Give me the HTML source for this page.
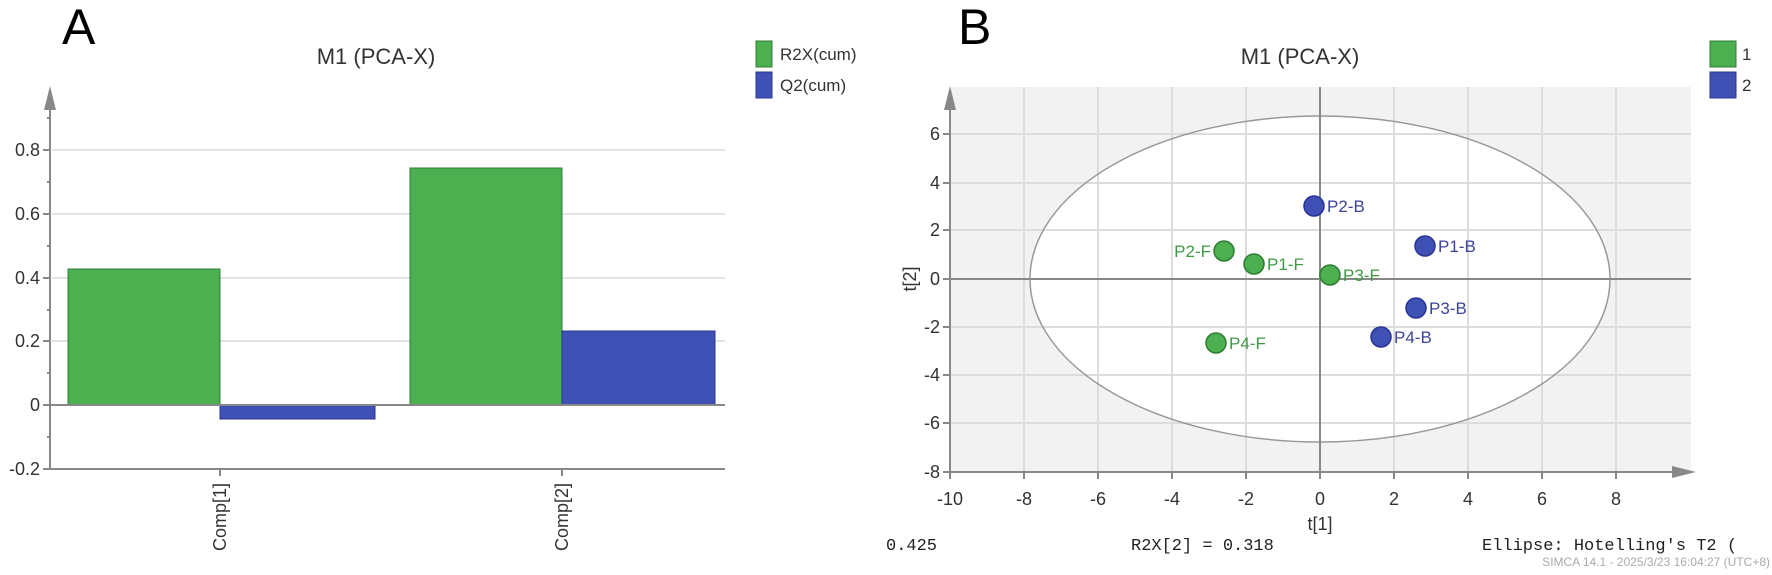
<!DOCTYPE html>
<html><head><meta charset="utf-8"><style>
html,body{margin:0;padding:0;background:#fff;}
svg{display:block;}
text{font-family:"Liberation Sans","DejaVu Sans",sans-serif;}
.t{font-size:18px;fill:#333;}
.m{font-family:"Liberation Mono","DejaVu Sans Mono",monospace;font-size:17px;fill:#222;}
</style></head><body>
<svg width="1772" height="575" viewBox="0 0 1772 575" xmlns="http://www.w3.org/2000/svg">
<!-- Panel A -->
<text x="62" y="44" style="font-family:'Liberation Sans',sans-serif;font-size:50px;fill:#000">A</text>
<text x="376" y="64" text-anchor="middle" style="font-size:22px;fill:#333">M1 (PCA-X)</text>
<g stroke="#e3e3e3" stroke-width="2">
<line x1="52" y1="150" x2="725" y2="150"/><line x1="52" y1="214" x2="725" y2="214"/>
<line x1="52" y1="278" x2="725" y2="278"/><line x1="52" y1="341" x2="725" y2="341"/>
</g>
<rect x="68" y="269" width="152" height="136" fill="#4caf50" stroke="#2e7d32" stroke-width="1"/>
<rect x="220" y="405" width="155" height="14" fill="#3f51b5" stroke="#283593" stroke-width="1"/>
<rect x="410" y="168" width="152" height="237" fill="#4caf50" stroke="#2e7d32" stroke-width="1"/>
<rect x="562" y="331" width="153" height="74" fill="#3f51b5" stroke="#283593" stroke-width="1"/>
<line x1="50" y1="405" x2="725" y2="405" stroke="#888" stroke-width="2"/>
<line x1="50" y1="100" x2="50" y2="469" stroke="#888" stroke-width="2"/>
<line x1="50" y1="469" x2="725" y2="469" stroke="#888" stroke-width="2"/>
<polygon points="50,86 44,110 56,110" fill="#888"/>
<g stroke="#888" stroke-width="2">
<line x1="43" y1="150" x2="50" y2="150"/><line x1="43" y1="214" x2="50" y2="214"/><line x1="43" y1="278" x2="50" y2="278"/>
<line x1="43" y1="341" x2="50" y2="341"/><line x1="43" y1="405" x2="50" y2="405"/><line x1="43" y1="469" x2="50" y2="469"/>
<line x1="47" y1="118" x2="50" y2="118"/><line x1="47" y1="182" x2="50" y2="182"/><line x1="47" y1="246" x2="50" y2="246"/>
<line x1="47" y1="310" x2="50" y2="310"/><line x1="47" y1="373" x2="50" y2="373"/><line x1="47" y1="437" x2="50" y2="437"/>
<line x1="220" y1="469" x2="220" y2="476"/><line x1="562" y1="469" x2="562" y2="476"/>
</g>
<g class="t" text-anchor="end">
<text x="40" y="156">0.8</text><text x="40" y="220">0.6</text><text x="40" y="284">0.4</text>
<text x="40" y="347">0.2</text><text x="40" y="411">0</text><text x="40" y="475">-0.2</text>
</g>
<text class="t" transform="translate(226,483) rotate(-90)" text-anchor="end">Comp[1]</text>
<text class="t" transform="translate(568,483) rotate(-90)" text-anchor="end">Comp[2]</text>
<rect x="756" y="41" width="16" height="26" fill="#4caf50" stroke="#2e7d32"/>
<rect x="756" y="72" width="16" height="26" fill="#3f51b5" stroke="#283593"/>
<text x="780" y="60" style="font-size:17px;fill:#333">R2X(cum)</text>
<text x="780" y="91" style="font-size:17px;fill:#333">Q2(cum)</text>

<!-- Panel B -->
<text x="958" y="44" style="font-family:'Liberation Sans',sans-serif;font-size:50px;fill:#000">B</text>
<text x="1300" y="64" text-anchor="middle" style="font-size:22px;fill:#333">M1 (PCA-X)</text>
<rect x="951" y="87" width="740" height="385" fill="#f2f2f2"/>
<ellipse cx="1320" cy="279" rx="290" ry="163" fill="#fff"/>
<g stroke="#dcdcdc" stroke-width="2">
<line x1="951" y1="134" x2="1691" y2="134"/><line x1="951" y1="183" x2="1691" y2="183"/><line x1="951" y1="230" x2="1691" y2="230"/>
<line x1="951" y1="327" x2="1691" y2="327"/><line x1="951" y1="375" x2="1691" y2="375"/><line x1="951" y1="423" x2="1691" y2="423"/>
<line x1="1024" y1="87" x2="1024" y2="472"/><line x1="1098" y1="87" x2="1098" y2="472"/><line x1="1172" y1="87" x2="1172" y2="472"/>
<line x1="1246" y1="87" x2="1246" y2="472"/><line x1="1394" y1="87" x2="1394" y2="472"/><line x1="1468" y1="87" x2="1468" y2="472"/>
<line x1="1542" y1="87" x2="1542" y2="472"/><line x1="1616" y1="87" x2="1616" y2="472"/>
</g>
<ellipse cx="1320" cy="279" rx="290" ry="163" fill="none" stroke="#999" stroke-width="1.5"/>
<line x1="951" y1="279" x2="1691" y2="279" stroke="#888" stroke-width="2"/>
<line x1="1320" y1="87" x2="1320" y2="472" stroke="#888" stroke-width="2"/>
<line x1="950" y1="100" x2="950" y2="472" stroke="#888" stroke-width="2"/>
<line x1="950" y1="472" x2="1680" y2="472" stroke="#888" stroke-width="2"/>
<polygon points="950,86 944,110 956,110" fill="#888"/>
<polygon points="1696,472 1672,466 1672,478" fill="#888"/>
<g stroke="#888" stroke-width="2">
<line x1="943" y1="134" x2="950" y2="134"/><line x1="943" y1="183" x2="950" y2="183"/><line x1="943" y1="230" x2="950" y2="230"/>
<line x1="943" y1="279" x2="950" y2="279"/><line x1="943" y1="327" x2="950" y2="327"/><line x1="943" y1="375" x2="950" y2="375"/>
<line x1="943" y1="423" x2="950" y2="423"/><line x1="943" y1="472" x2="950" y2="472"/>
<line x1="950" y1="472" x2="950" y2="479"/><line x1="1024" y1="472" x2="1024" y2="479"/><line x1="1098" y1="472" x2="1098" y2="479"/>
<line x1="1172" y1="472" x2="1172" y2="479"/><line x1="1246" y1="472" x2="1246" y2="479"/><line x1="1320" y1="472" x2="1320" y2="479"/>
<line x1="1394" y1="472" x2="1394" y2="479"/><line x1="1468" y1="472" x2="1468" y2="479"/><line x1="1542" y1="472" x2="1542" y2="479"/>
<line x1="1616" y1="472" x2="1616" y2="479"/>
</g>
<g class="t" text-anchor="end">
<text x="940" y="140">6</text><text x="940" y="189">4</text><text x="940" y="236">2</text><text x="940" y="285">0</text>
<text x="940" y="333">-2</text><text x="940" y="381">-4</text><text x="940" y="429">-6</text><text x="940" y="478">-8</text>
</g>
<g class="t" text-anchor="middle">
<text x="950" y="505">-10</text><text x="1024" y="505">-8</text><text x="1098" y="505">-6</text><text x="1172" y="505">-4</text>
<text x="1246" y="505">-2</text><text x="1320" y="505">0</text><text x="1394" y="505">2</text><text x="1468" y="505">4</text>
<text x="1542" y="505">6</text><text x="1616" y="505">8</text>
<text x="1320" y="530">t[1]</text>
</g>
<text class="t" transform="translate(916,279) rotate(-90)" text-anchor="middle">t[2]</text>
<g stroke-width="1.5">
<circle cx="1314" cy="206" r="10" fill="#3f51b5" stroke="#283593"/>
<circle cx="1425" cy="246" r="10" fill="#3f51b5" stroke="#283593"/>
<circle cx="1416" cy="308" r="10" fill="#3f51b5" stroke="#283593"/>
<circle cx="1381" cy="337" r="10" fill="#3f51b5" stroke="#283593"/>
<circle cx="1224" cy="251" r="10" fill="#4caf50" stroke="#2e7d32"/>
<circle cx="1254" cy="264" r="10" fill="#4caf50" stroke="#2e7d32"/>
<circle cx="1330" cy="275" r="10" fill="#4caf50" stroke="#2e7d32"/>
<circle cx="1216" cy="343" r="10" fill="#4caf50" stroke="#2e7d32"/>
</g>
<g style="font-size:17px;fill:#3b439a">
<text x="1327" y="212">P2-B</text><text x="1438" y="252">P1-B</text>
<text x="1429" y="314">P3-B</text><text x="1394" y="343">P4-B</text>
</g>
<g style="font-size:17px;fill:#3f9a44">
<text x="1211" y="257" text-anchor="end">P2-F</text><text x="1267" y="270">P1-F</text>
<text x="1343" y="281">P3-F</text><text x="1229" y="349">P4-F</text>
</g>
<rect x="1710" y="41" width="26" height="26" fill="#4caf50" stroke="#2e7d32"/>
<rect x="1710" y="72" width="26" height="26" fill="#3f51b5" stroke="#283593"/>
<text x="1742" y="60" style="font-size:17px;fill:#333">1</text>
<text x="1742" y="91" style="font-size:17px;fill:#333">2</text>
<text class="m" x="886" y="550">0.425</text>
<text class="m" x="1131" y="550">R2X[2] = 0.318</text>
<text class="m" x="1482" y="550">Ellipse: Hotelling's T2 (</text>
<text x="1770" y="566" text-anchor="end" style="font-size:12px;fill:#aaa">SIMCA 14.1 - 2025/3/23 16:04:27 (UTC+8)</text>
</svg>
</body></html>
